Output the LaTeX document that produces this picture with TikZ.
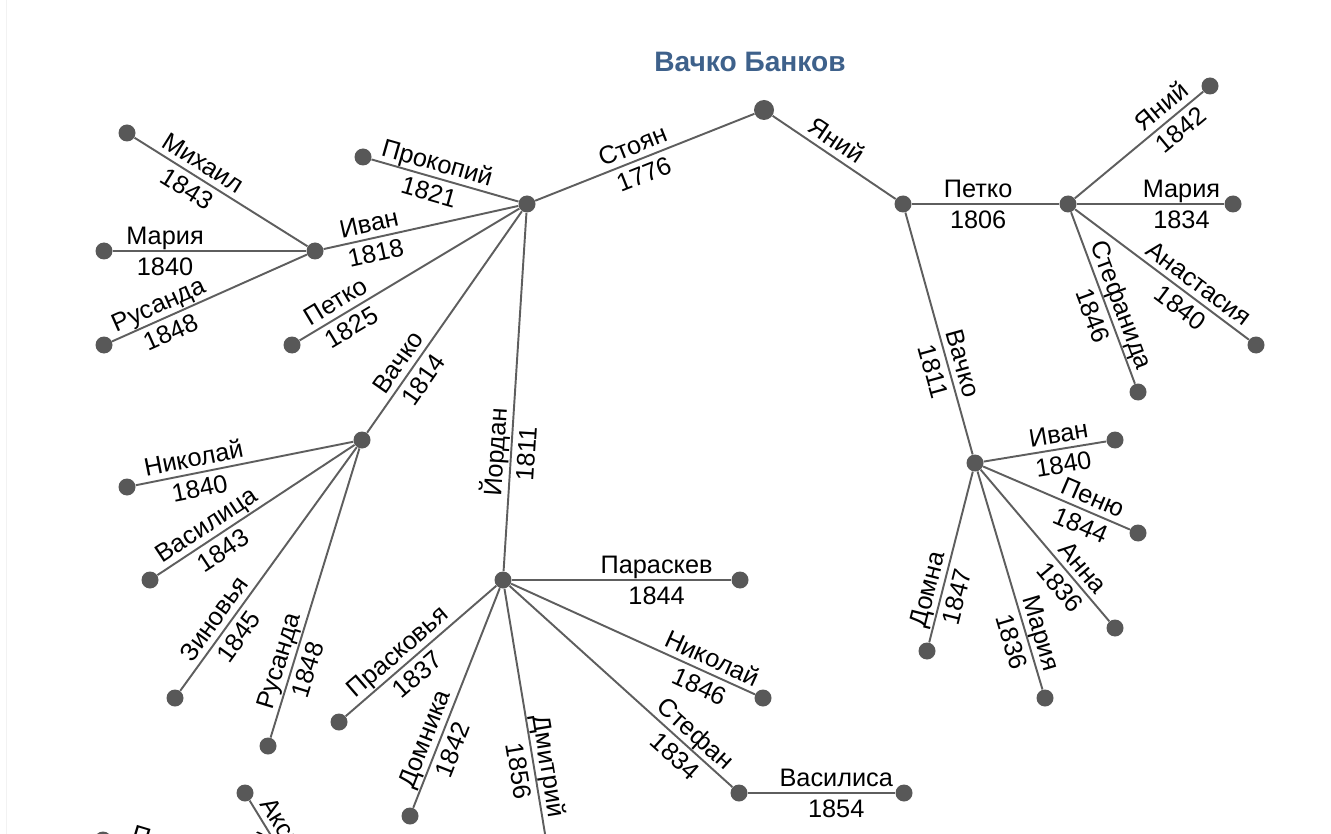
\documentclass[tikz,border=0pt]{standalone}
\usepackage{fontspec}
\setmainfont{Liberation Sans}
\definecolor{linegray}{HTML}{5E5E5E}
\definecolor{dotgray}{HTML}{585858}
\definecolor{titleblue}{HTML}{3E618B}
\tikzset{
  dot/.style={circle, fill=dotgray, inner sep=0pt, minimum size=17*0.02cm},
  rootdot/.style={dot, minimum size=20*0.02cm},
  edge/.style={draw=linegray, line width=1.1pt},
  nm/.style={sloped, above, font=\fontsize{14.4}{17}\selectfont,
    inner ysep=1.5pt, text height=0.72em, text depth=0.17em},
  yr/.style={sloped, below, font=\fontsize{14.4}{17}\selectfont,
    inner ysep=6pt, text height=0.72em, text depth=0pt},
  title/.style={font=\fontsize{16}{19}\selectfont\bfseries, text=titleblue}
}
\begin{document}
\begin{tikzpicture}[x=0.02cm, y=-0.02cm]
\useasboundingbox (0,0) rectangle (1331,834);
\clip (0,0) rectangle (1331,834);
\draw[black!5] (6,0) -- (6,834);

% root
\node[title] (ttl) at (750,62) {Вачко Банков};
\node[rootdot] (root) at (764,110) {};

% right branch
\node[dot] (yaniy) at (903,204) {};
\node[dot] (petko) at (1068,204) {};
\node[dot] (yaniyb) at (1210,86) {};
\node[dot] (mariyaa) at (1233,204) {};
\node[dot] (anastasiya) at (1256,345) {};
\node[dot] (stefanida) at (1138,392) {};
\node[dot] (vachkoa) at (975,463) {};
\node[dot] (ivana) at (1115,440) {};
\node[dot] (penyu) at (1138,533) {};
\node[dot] (anna) at (1115,628) {};
\node[dot] (mariyab) at (1045,698) {};
\node[dot] (domna) at (927,651) {};

% left branch
\node[dot] (stoyan) at (527,204) {};
\node[dot] (prokopiy) at (363,157) {};
\node[dot] (ivanb) at (315,251) {};
\node[dot] (petkob) at (292,345) {};
\node[dot] (vachkob) at (362,440) {};
\node[dot] (yordan) at (503,580) {};
\node[dot] (mihail) at (127,133) {};
\node[dot] (mariyac) at (104,251) {};
\node[dot] (rusandaa) at (104,345) {};
\node[dot] (nikolaya) at (127,487) {};
\node[dot] (vasilica) at (150,580) {};
\node[dot] (zinovya) at (175,698) {};
\node[dot] (rusandab) at (268,746) {};
\node[dot] (paraskev) at (740,580) {};
\node[dot] (nikolayb) at (763,698) {};
\node[dot] (stefan) at (739,793) {};
\node[dot] (vasilisa) at (904,793) {};
\node[dot] (dmitriy) at (551,870) {};
\node[dot] (domnika) at (410,816) {};
\node[dot] (praskovya) at (339,722) {};

% cut off at the bottom
\coordinate (lowa) at (313,904);
\coordinate (lowb) at (320,905);
\node[dot] (aksiniya) at (245,793) {};
\node[dot] (penyub) at (103,840) {};

\draw[edge] (root) -- node[nm, pos=.53] {Стоян} node[yr, pos=.53] {1776} (stoyan);
\draw[edge] (root) -- node[nm, pos=.45] {Яний} (yaniy);
\draw[edge] (yaniy) -- node[nm, pos=.45] {Петко} node[yr, pos=.45] {1806} (petko);
\draw[edge] (petko) -- node[nm, pos=.75] {Яний} node[yr, pos=.75] {1842} (yaniyb);
\draw[edge] (petko) -- node[nm, pos=.71] {Мария} node[yr, pos=.71] {1834} (mariyaa);
\draw[edge] (petko) -- node[nm, pos=.66] {Анастасия} node[yr, pos=.66] {1840} (anastasiya);
\draw[edge] (petko) -- node[nm, pos=.57] {Стефанида} node[yr, pos=.57] {1846} (stefanida);
\draw[edge] (yaniy) -- node[nm, pos=.64] {Вачко} node[yr, pos=.64] {1811} (vachkoa);
\draw[edge] (vachkoa) -- node[nm, pos=.63] {Иван} node[yr, pos=.63] {1840} (ivana);
\draw[edge] (vachkoa) -- node[nm, pos=.71] {Пеню} node[yr, pos=.71] {1844} (penyu);
\draw[edge] (vachkoa) -- node[nm, pos=.71] {Анна} node[yr, pos=.71] {1836} (anna);
\draw[edge] (vachkoa) -- node[nm, pos=.76] {Мария} node[yr, pos=.76] {1836} (mariyab);
\draw[edge] (vachkoa) -- node[nm, pos=.71] {Домна} node[yr, pos=.71] {1847} (domna);

\draw[edge] (stoyan) -- node[nm, pos=.58] {Прокопий} node[yr, pos=.58] {1821} (prokopiy);
\draw[edge] (stoyan) -- node[nm, pos=.75] {Иван} node[yr, pos=.75] {1818} (ivanb);
\draw[edge] (stoyan) -- node[nm, pos=.8] {Петко} node[yr, pos=.8] {1825} (petkob);
\draw[edge] (stoyan) -- node[nm, pos=.72] {Вачко} node[yr, pos=.72] {1814} (vachkob);
\draw[edge] (stoyan) -- node[nm, pos=.67] {Йордан} node[yr, pos=.67] {1811} (yordan);
\draw[edge] (ivanb) -- node[nm, pos=.65] {Михаил} node[yr, pos=.65] {1843} (mihail);
\draw[edge] (ivanb) -- node[nm, pos=.73] {Мария} node[yr, pos=.73] {1840} (mariyac);
\draw[edge] (ivanb) -- node[nm, pos=.73] {Русанда} node[yr, pos=.73] {1848} (rusandaa);
\draw[edge] (vachkob) -- node[nm, pos=.72] {Николай} node[yr, pos=.72] {1840} (nikolaya);
\draw[edge] (vachkob) -- node[nm, pos=.71] {Василица} node[yr, pos=.71] {1843} (vasilica);
\draw[edge] (vachkob) -- node[nm, pos=.74] {Зиновья} node[yr, pos=.74] {1845} (zinovya);
\draw[edge] (vachkob) -- node[nm, pos=.75] {Русанда} node[yr, pos=.75] {1848} (rusandab);
\draw[edge] (yordan) -- node[nm, pos=.66] {Параскев} node[yr, pos=.66] {1844} (paraskev);
\draw[edge] (yordan) -- node[nm, pos=.8] {Николай} node[yr, pos=.8] {1846} (nikolayb);
\draw[edge] (yordan) -- node[nm, pos=.79] {Стефан} node[yr, pos=.79] {1834} (stefan);
\draw[edge] (yordan) -- node[nm, pos=.66] {Дмитрий} node[yr, pos=.66] {1856} (dmitriy);
\draw[edge] (yordan) -- node[nm, pos=.71] {Домника} node[yr, pos=.71] {1842} (domnika);
\draw[edge] (yordan) -- node[nm, pos=.59] {Прасковья} node[yr, pos=.59] {1837} (praskovya);
\draw[edge] (stefan) -- node[nm, pos=.6] {Василиса} node[yr, pos=.6] {1854} (vasilisa);

\draw[edge] (lowa) -- node[nm, pos=.53] {Аксиния} node[yr, pos=.53] {1840} (aksiniya);
\draw[edge] (lowb) -- node[nm, pos=.77] {Пеню} node[yr, pos=.77] {1845} (penyub);
\end{tikzpicture}
\end{document}
